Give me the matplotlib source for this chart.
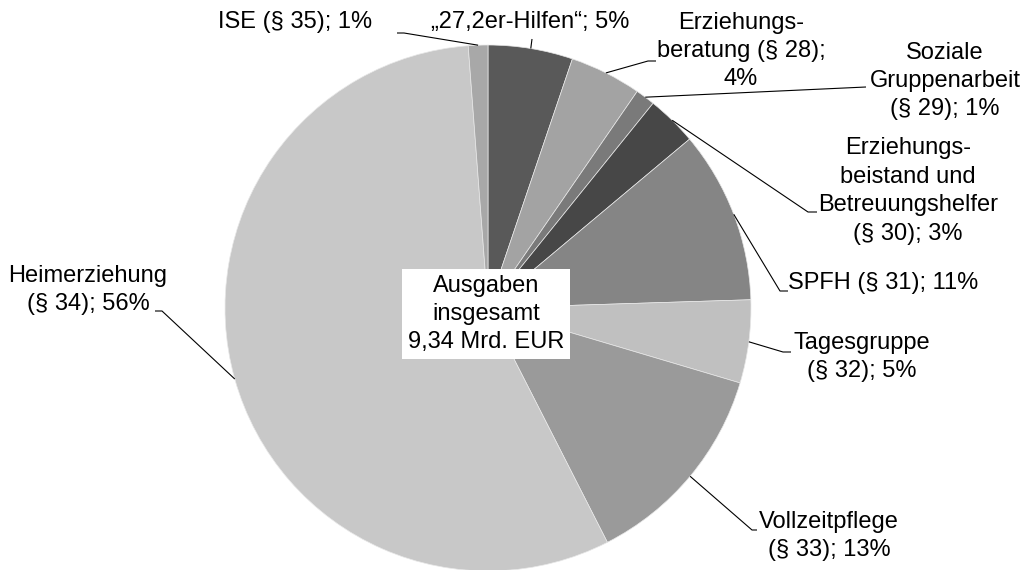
import numpy as np
import matplotlib
matplotlib.use("Agg")
import matplotlib.pyplot as plt

# Anteile an den Ausgaben (im Uhrzeigersinn ab 12 Uhr)
categories = [
    "„27,2er-Hilfen“", "Erziehungsberatung (§ 28)", "Soziale Gruppenarbeit (§ 29)",
    "Erziehungsbeistand und Betreuungshelfer (§ 30)", "SPFH (§ 31)", "Tagesgruppe (§ 32)",
    "Vollzeitpflege (§ 33)", "Heimerziehung (§ 34)", "ISE (§ 35)",
]
shares = [5.2, 4.4, 1.2, 3.1, 10.6, 5.1, 12.9, 56.3, 1.2]
labels = [
    "„27,2er-Hilfen“; 5%",
    "Erziehungs-\nberatung (§ 28);\n4%",
    "Soziale\nGruppenarbeit\n(§ 29); 1%",
    "Erziehungs-\nbeistand und\nBetreuungshelfer\n(§ 30); 3%",
    "SPFH (§ 31); 11%",
    "Tagesgruppe\n(§ 32); 5%",
    "Vollzeitpflege\n(§ 33); 13%",
    "Heimerziehung\n(§ 34); 56%",
    "ISE (§ 35); 1%",
]
colors = ["#595959", "#a3a3a3", "#7a7a7a", "#474747", "#858585",
          "#c0c0c0", "#9a9a9a", "#c8c8c8", "#a8a8a8"]
center_text = "Ausgaben\ninsgesamt\n9,34 Mrd. EUR"

W, H = 1024, 570
plt.rcParams["font.family"] = ["Liberation Sans", "DejaVu Sans"]

fig = plt.figure(figsize=(W / 100, H / 100), dpi=100)
ax = fig.add_axes([0, 0, 1, 1])


def px(x, y):
    # Pixelkoordinaten (y von oben) -> Datenkoordinaten
    return x, H - y


cx, cy = px(488, 308)
radius = 263
wedges, _ = ax.pie(shares, colors=colors, startangle=90, counterclock=False,
                   center=(cx, cy), radius=radius, frame=True,
                   wedgeprops=dict(linewidth=0.5, edgecolor="#e8e8e8"))
ax.set_xlim(0, W)
ax.set_ylim(0, H)
ax.set_aspect("equal")
ax.axis("off")

# Layout der Beschriftungen: Textmitte, Knick der Linie, Linienende (Pixel)
layout = [
    ((530, 22), None, (532, 39)),
    ((741, 51), (648, 61), (656, 61)),
    ((945, 81), None, (866, 87)),
    ((908, 191), (808, 212), (817, 212)),
    ((883, 283), (780, 291), (788, 291)),
    ((862, 357), (783, 352), (791, 352)),
    ((829, 536), (752, 530), (757, 530)),
    ((88, 290), (162, 311), (155, 311)),
    ((295, 22), (404, 33), (397, 33)),
]

fs = 17
for w, lab, (tpos, elbow, end) in zip(wedges, labels, layout):
    mid = np.deg2rad((w.theta1 + w.theta2) / 2)
    ax_pt = (cx + radius * np.cos(mid), cy + radius * np.sin(mid))
    pts = [ax_pt]
    if elbow is not None:
        pts.append(px(*elbow))
    pts.append(px(*end))
    xs, ys = zip(*pts)
    ax.plot(xs, ys, color="black", lw=0.8, solid_capstyle="butt")
    ax.text(*px(*tpos), lab, ha="center", va="center", fontsize=fs,
            linespacing=1.38, color="black")

ax.text(*px(486, 314), center_text, ha="center", va="center", fontsize=fs,
        linespacing=1.38, color="black",
        bbox=dict(boxstyle="square,pad=0.25", facecolor="white", edgecolor="none"))

fig.savefig("out.png", dpi=100)
